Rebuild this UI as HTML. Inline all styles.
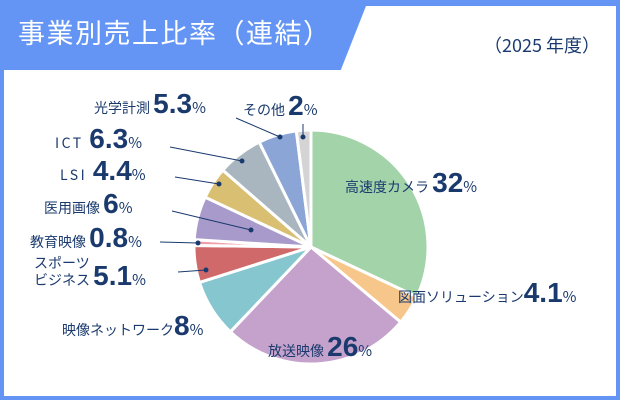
<!DOCTYPE html>
<html><head><meta charset="utf-8"><style>
body{margin:0;width:620px;height:400px;overflow:hidden;background:#fff;font-family:"Liberation Sans","Noto Sans CJK JP",sans-serif}
svg{position:absolute;left:0;top:0}
.n{font-size:28px;font-family:"Liberation Sans",sans-serif;font-weight:bold}
.p{font-size:15px}
</style></head><body>
<svg width="620" height="400" viewBox="0 0 620 400" id="s">
<rect x="0" y="0" width="620" height="400" fill="#6495f5"/>
<rect x="4" y="70" width="612" height="326" fill="#fff"/>
<polygon points="366,6 616,6 616,72 340,72" fill="#fff"/>
<text x="18" y="43" font-size="27" fill="#fff" font-family="Noto Sans CJK JP,sans-serif" letter-spacing="1.5">事業別売上比率（連結）</text>
<text x="600" y="52" font-size="18" fill="#1a3a6e" text-anchor="end" font-family="Noto Sans CJK JP,sans-serif">（2025 年度）</text>
<g id="pie"></g>
<g stroke="#1a3a6e" stroke-width="1" fill="#1a3a6e">
<line x1="236" y1="118" x2="280" y2="137"/><circle cx="280" cy="137" r="2"/>
<line x1="303" y1="124" x2="303" y2="137"/><circle cx="303" cy="137" r="2"/>
<line x1="170" y1="147" x2="242" y2="161"/><circle cx="242" cy="161" r="2"/>
<line x1="175" y1="177" x2="219" y2="184"/><circle cx="219" cy="184" r="2"/>
<line x1="172" y1="211" x2="251" y2="230"/><circle cx="251" cy="230" r="2"/>
<line x1="160" y1="242" x2="198" y2="243"/><circle cx="198" cy="243" r="2"/>
<line x1="178" y1="272" x2="206" y2="270"/><circle cx="206" cy="270" r="2"/>
</g>
<g fill="#1a3a6e" font-family="Noto Sans CJK JP,sans-serif" font-size="14">
<text x="94" y="113">光学計測 <tspan class="n">5.3</tspan><tspan class="p">%</tspan></text>
<text x="243" y="115">その他 <tspan class="n">2</tspan><tspan class="p">%</tspan></text>
<text x="55" y="148" letter-spacing="2.5">ICT <tspan class="n" letter-spacing="0">6.3</tspan><tspan class="p" letter-spacing="0">%</tspan></text>
<text x="60" y="180" letter-spacing="2.5">LSI <tspan class="n" letter-spacing="0">4.4</tspan><tspan class="p" letter-spacing="0">%</tspan></text>
<text x="44" y="213">医用画像 <tspan class="n">6</tspan><tspan class="p">%</tspan></text>
<text x="30" y="247">教育映像 <tspan class="n">0.8</tspan><tspan class="p">%</tspan></text>
<text x="34" y="268">スポーツ</text>
<text x="34" y="285">ビジネス <tspan class="n">5.1</tspan><tspan class="p">%</tspan></text>
<text x="62" y="335">映像ネットワーク<tspan class="n">8</tspan><tspan class="p">%</tspan></text>
<text x="268" y="356">放送映像 <tspan class="n">26</tspan><tspan class="p">%</tspan></text>
<text x="345" y="192">高速度カメラ <tspan class="n">32</tspan><tspan class="p">%</tspan></text>
<text x="398" y="302">図面ソリューション<tspan class="n">4.1</tspan><tspan class="p">%</tspan></text>
</g>
</svg>
<script>
var d=[[32,"#a3d3a9"],[4.1,"#f7c68a"],[26,"#c4a2cb"],[8,"#85c6cf"],[5.1,"#d06a6a"],[0.8,"#f0a0a8"],[6,"#a89bcb"],[4.4,"#d9bf72"],[6.3,"#a9b6bf"],[5.3,"#8aa5d6"],[2,"#d4d4d4"]];
var cx=311,cy=247,r=117,a=-Math.PI/2,g=document.getElementById("pie"),h="";
d.forEach(function(s){var b=a+s[0]/100*2*Math.PI;
var x1=cx+r*Math.cos(a),y1=cy+r*Math.sin(a),x2=cx+r*Math.cos(b),y2=cy+r*Math.sin(b);
h+='<path d="M'+cx+' '+cy+'L'+x1+' '+y1+'A'+r+' '+r+' 0 '+(s[0]>50?1:0)+' 1 '+x2+' '+y2+'Z" fill="'+s[1]+'" stroke="#fff" stroke-width="3" stroke-linejoin="round"/>';a=b;});
g.innerHTML=h;
</script>
</body></html>
